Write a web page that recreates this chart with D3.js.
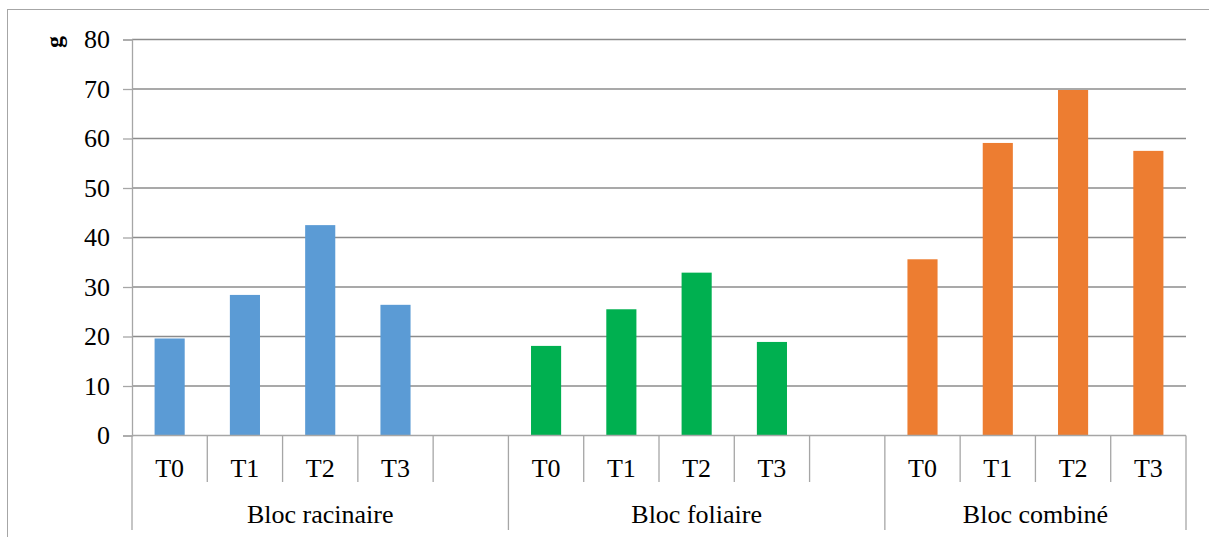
<!DOCTYPE html>
<html>
<head>
<meta charset="utf-8">
<script src="https://cdn.jsdelivr.net/npm/d3@7/dist/d3.min.js"></script>
<style>
  html, body { margin: 0; padding: 0; background: #fff; }
  svg { display: block; }
  svg text { font-family: 'Liberation Serif', Tinos, 'Times New Roman', 'DejaVu Serif', serif !important; fill: #000; }
</style>
</head>
<body>
<svg id="chart" width="1209" height="537"></svg>
<script>
// Biomass (g) per treatment, for each block
const treatments = ["T0", "T1", "T2", "T3"];
const blocks = ["Bloc racinaire", "Bloc foliaire", "Bloc combiné"];
const racinaire = [19.6, 28.4, 42.5, 26.4];
const foliaire = [18.1, 25.5, 32.9, 18.9];
const combine = [35.6, 59.1, 69.8, 57.5];
const yTicks = [0, 10, 20, 30, 40, 50, 60, 70, 80];
const yLabel = "g";

const seriesValues = [racinaire, foliaire, combine];
const colors = ["#5b9bd5", "#00b050", "#ed7d31"];
const serif = "'Liberation Serif', Tinos, 'Times New Roman', 'DejaVu Serif', serif";

// Each block holds its treatments followed by an empty slot (except the last block)
const groups = blocks.map((b, gi) => {
  const slots = treatments.map((t, ti) => ({ key: gi + "-" + t, label: t, value: seriesValues[gi][ti], color: colors[gi] }));
  if (gi < blocks.length - 1) slots.push({ key: gi + "-gap", label: "", value: null });
  return { name: b, slots };
});
const allSlots = groups.flatMap(g => g.slots);

const margin = { left: 132, right: 1186, top: 39.5, bottom: 435.5 };
const svg = d3.select("#chart");
const gridColor = "#8c8c8c";
const axisColor = "#a6a6a6";

// Outer chart frame
svg.append("rect")
  .attr("x", 7.5).attr("y", 9.5)
  .attr("width", 1220).attr("height", 560)
  .attr("fill", "none").attr("stroke", "#a6a6a6").attr("stroke-width", 1);

const x = d3.scaleBand().domain(allSlots.map(d => d.key)).range([margin.left, margin.right]).padding(0);
const y = d3.scaleLinear().domain([0, 80]).range([margin.bottom, margin.top]);

// Horizontal gridlines
svg.append("g").selectAll("line").data(yTicks.filter(t => t > 0)).join("line")
  .attr("x1", margin.left).attr("x2", margin.right)
  .attr("y1", d => y(d)).attr("y2", d => y(d))
  .attr("stroke", gridColor).attr("stroke-width", 1.3);

// Y axis
const yAxis = d3.axisLeft(y).tickValues(yTicks).tickSize(9).tickPadding(13);
const yG = svg.append("g").attr("transform", `translate(${margin.left},0)`).call(yAxis)
  .attr("font-family", serif).attr("font-size", 26);
yG.select(".domain").attr("stroke", axisColor).attr("stroke-width", 1.3);
yG.selectAll(".tick line").attr("stroke", axisColor).attr("stroke-width", 1.3);
yG.selectAll(".tick text").attr("fill", "#000");

// Y axis title
svg.append("text")
  .attr("transform", "translate(62,42) rotate(-90)")
  .attr("text-anchor", "middle")
  .attr("font-size", 24).attr("font-weight", "bold")
  .text(yLabel);

// Bars
const barW = x.bandwidth() * 0.4;
svg.append("g").selectAll("rect").data(allSlots.filter(d => d.value !== null)).join("rect")
  .attr("x", d => x(d.key) + (x.bandwidth() - barW) / 2)
  .attr("width", barW)
  .attr("y", d => y(d.value))
  .attr("height", d => y(0) - y(d.value))
  .attr("fill", d => d.color);

// Category axis line
svg.append("line")
  .attr("x1", margin.left).attr("x2", margin.right)
  .attr("y1", y(0)).attr("y2", y(0))
  .attr("stroke", axisColor).attr("stroke-width", 1.3);

// Short separators between treatments, long separators between blocks
const catAxis = svg.append("g");
const groupEdges = [];
groups.forEach(g => {
  groupEdges.push(x(g.slots[0].key));
  g.slots.forEach((s, i) => {
    if (i > 0) {
      const xx = x(s.key);
      catAxis.append("line")
        .attr("x1", xx).attr("x2", xx).attr("y1", y(0)).attr("y2", 482)
        .attr("stroke", axisColor).attr("stroke-width", 1.3);
    }
  });
});
groupEdges.push(margin.right);
catAxis.selectAll(".gedge").data(groupEdges).join("line")
  .attr("x1", d => d).attr("x2", d => d).attr("y1", y(0)).attr("y2", 530)
  .attr("stroke", axisColor).attr("stroke-width", 1.3);

// Treatment labels
catAxis.selectAll(".tlab").data(allSlots.filter(d => d.label)).join("text")
  .attr("x", d => x(d.key) + x.bandwidth() / 2)
  .attr("y", 477)
  .attr("text-anchor", "middle")
  .attr("font-size", 26)
  .text(d => d.label);

// Block labels
catAxis.selectAll(".blab").data(groups).join("text")
  .attr("x", (g, i) => (groupEdges[i] + groupEdges[i + 1]) / 2)
  .attr("y", 523)
  .attr("text-anchor", "middle")
  .attr("font-size", 26)
  .text(g => g.name);
</script>
</body>
</html>
